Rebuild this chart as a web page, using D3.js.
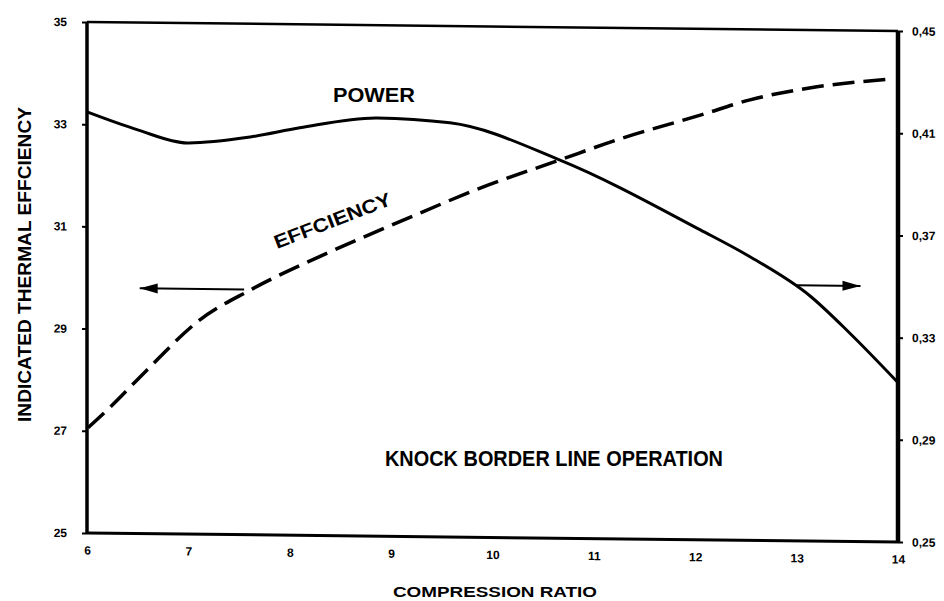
<!DOCTYPE html>
<html>
<head>
<meta charset="utf-8">
<script src="https://cdn.jsdelivr.net/npm/d3@7/dist/d3.min.js"></script>
<style>
  body { margin: 0; background: #fff; }
  svg { display: block; font-family: 'Liberation Sans', Arial, sans-serif; }
  .tick text { font-weight: bold; font-family: 'Liberation Sans Narrow', 'Liberation Sans', Arial, sans-serif; }
</style>
</head>
<body>
<div id="chart"></div>
<script>
/* global d3 */

// compression ratio ticks
const ratioTicks = [6, 7, 8, 9, 10, 11, 12, 13, 14]
// left axis: indicated thermal efficiency (%)
const effTicks = [25, 27, 29, 31, 33, 35]
// right axis: power
const powerTicks = [0.25, 0.29, 0.33, 0.37, 0.41, 0.45]

// efficiency curve (dashed, left axis)
const effRatio = [6.01, 6.23, 6.59, 7.11, 7.61, 8.37, 9.12, 9.91, 10.66, 11.23, 12.05, 12.54, 13.2, 13.95]
const effValue = [27.06, 27.47, 28.2, 29.19, 29.79, 30.53, 31.19, 31.86, 32.4, 32.81, 33.31, 33.62, 33.89, 34.06]

// power curve (solid, right axis)
const powerRatio = [6.0, 6.5, 6.99, 7.61, 8.1, 8.86, 9.58, 10.66, 12.05, 12.54, 13.13, 13.52, 13.99]
const powerValue = [0.4148, 0.408, 0.4031, 0.4057, 0.4095, 0.4137, 0.4121, 0.3981, 0.3713, 0.361, 0.346, 0.3317, 0.3128]

// arrows: [ratio from, ratio to, value]
const leftArrow = [7.55, 6.52, 29.8]
const rightArrow = [13.0, 13.63, 0.35]

const width = 944
const height = 601
const plot = { left: 87, top: 22, width: 811, height: 511 }

const svg = d3.select('#chart').append('svg').attr('width', width).attr('height', height)

const x = d3.scaleLinear().domain([6, 14]).range([0, plot.width])
const yLeft = d3.scaleLinear().domain([25, 35]).range([plot.height, 0])
const yRight = d3.scaleLinear().domain([0.25, 0.45]).range([plot.height, 0])

// the scan is slightly sheared: the right side sits ~9px lower
const g = svg.append('g').attr('transform', `translate(${plot.left},${plot.top}) skewY(0.635)`)

// axes
const leftAxis = d3.axisLeft(yLeft).tickValues(effTicks).tickSize(5).tickPadding(15).tickFormat(d3.format('d'))
const rightAxis = d3.axisRight(yRight).tickValues(powerTicks).tickSize(5).tickPadding(9).tickFormat(d => d3.format('.2f')(d).replace('.', ','))
const bottomAxis = d3.axisBottom(x).tickValues(ratioTicks).tickSize(0).tickPadding(13).tickFormat(d3.format('d'))

const styleAxis = sel => {
  sel.select('.domain').remove()
  sel.selectAll('line').attr('stroke', '#000').attr('stroke-width', 2)
  sel.selectAll('text').attr('fill', '#000').style('font-size', '12px')
}

g.append('g').call(leftAxis).call(styleAxis)
g.append('g').attr('transform', `translate(${plot.width},0)`).call(rightAxis).call(styleAxis)
g.append('g').attr('transform', `translate(0,${plot.height})`).call(bottomAxis).call(styleAxis)

// frame
g.append('line').attr('x1', 0).attr('x2', plot.width).attr('y1', 0).attr('y2', 0).attr('stroke', '#000').attr('stroke-width', 2.5)
g.append('line').attr('x1', 0).attr('x2', plot.width).attr('y1', plot.height).attr('y2', plot.height).attr('stroke', '#000').attr('stroke-width', 3)
g.append('line').attr('x1', 0).attr('x2', 0).attr('y1', 0).attr('y2', plot.height).attr('stroke', '#000').attr('stroke-width', 3.5)
g.append('line').attr('x1', plot.width).attr('x2', plot.width).attr('y1', 0).attr('y2', plot.height).attr('stroke', '#000').attr('stroke-width', 4.5)

// curves
const effLine = d3.line().x(d => x(d[0])).y(d => yLeft(d[1])).curve(d3.curveMonotoneX)
const powerLine = d3.line().x(d => x(d[0])).y(d => yRight(d[1])).curve(d3.curveMonotoneX)

g.append('path')
  .datum(effRatio.map((r, i) => [r, effValue[i]]))
  .attr('d', effLine)
  .attr('fill', 'none')
  .attr('stroke', '#000')
  .attr('stroke-width', 3.5)
  .attr('stroke-dasharray', '22 9')

g.append('path')
  .datum(powerRatio.map((r, i) => [r, powerValue[i]]))
  .attr('d', powerLine)
  .attr('fill', 'none')
  .attr('stroke', '#000')
  .attr('stroke-width', 3)

// arrows
const arrow = (x1, x2, y, dir) => {
  g.append('line').attr('x1', x1).attr('x2', x2).attr('y1', y).attr('y2', y).attr('stroke', '#000').attr('stroke-width', 2)
  g.append('path')
    .attr('d', `M${x2},${y} l${-dir * 18},-5 l0,10 Z`)
    .attr('fill', '#000')
}
arrow(x(leftArrow[0]), x(leftArrow[1]), yLeft(leftArrow[2]), -1)
arrow(x(rightArrow[0]), x(rightArrow[1]), yRight(rightArrow[2]), 1)

// annotations (positions in page pixels)
svg.append('text').attr('x', 333).attr('y', 102)
  .attr('textLength', 82).attr('lengthAdjust', 'spacingAndGlyphs')
  .style('font-size', '20px').style('font-weight', 'bold').text('POWER')

svg.append('text')
  .attr('transform', 'translate(277,249) rotate(-21)')
  .attr('textLength', 124).attr('lengthAdjust', 'spacingAndGlyphs')
  .style('font-size', '19px').style('font-weight', 'bold')
  .text('EFFCIENCY')

svg.append('text').attr('x', 385).attr('y', 466)
  .attr('textLength', 338).attr('lengthAdjust', 'spacingAndGlyphs')
  .style('font-size', '22px').style('font-weight', 'bold').text('KNOCK BORDER LINE OPERATION')

// axis titles
svg.append('text')
  .attr('transform', 'translate(31,422) rotate(-90)')
  .attr('textLength', 315).attr('lengthAdjust', 'spacingAndGlyphs')
  .style('font-size', '19px').style('font-weight', 'bold')
  .text('INDICATED THERMAL EFFCIENCY')

svg.append('text')
  .attr('x', 393).attr('y', 597)
  .attr('textLength', 204).attr('lengthAdjust', 'spacingAndGlyphs')
  .style('font-size', '14px').style('font-weight', 'bold')
  .text('COMPRESSION RATIO')
</script>
</body>
</html>
